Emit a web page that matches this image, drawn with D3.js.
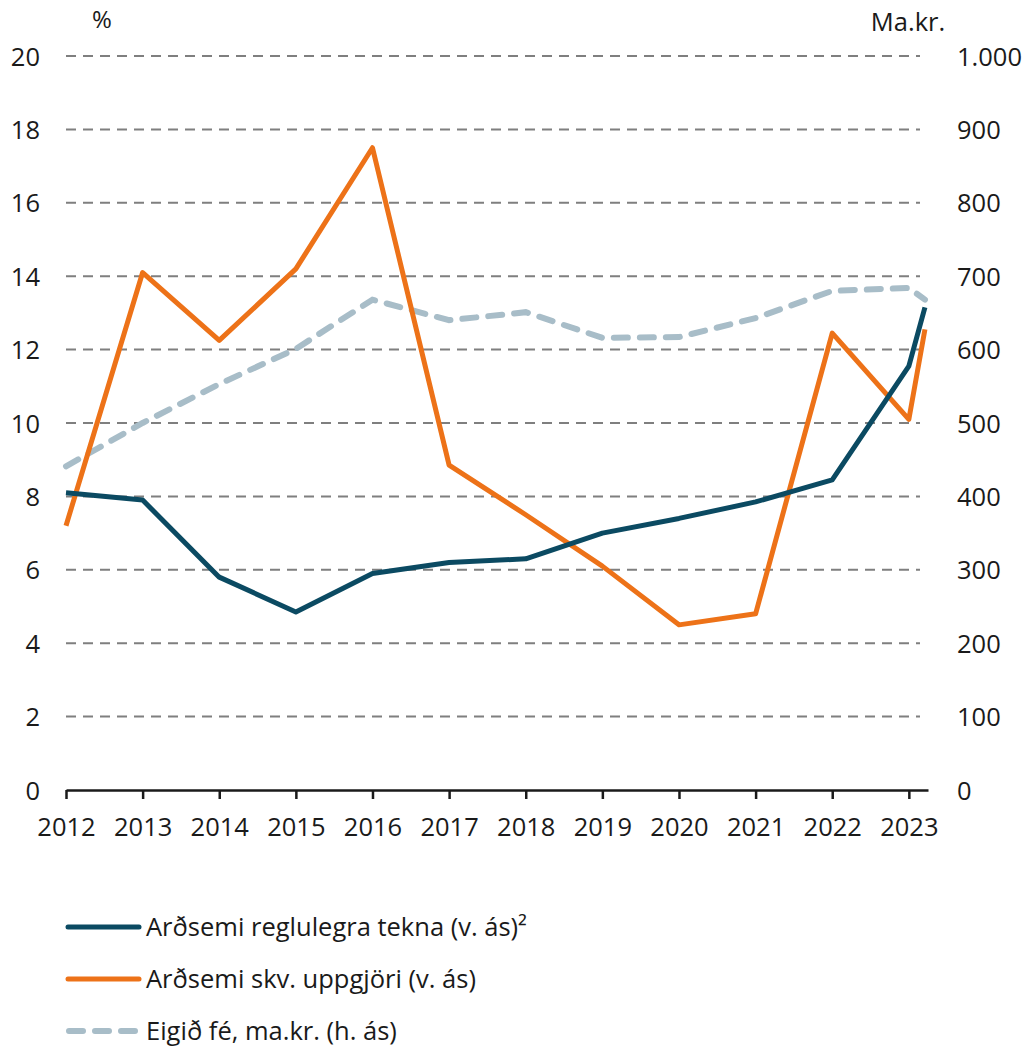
<!DOCTYPE html>
<html>
<head>
<meta charset="utf-8">
<script src="https://cdn.jsdelivr.net/npm/d3@7"></script>
<style>
  body { margin: 0; background: #fff; }
  text { font-family: "Open Sans", "Liberation Sans", sans-serif; fill: #1a1a1a; }
</style>
</head>
<body>
<div id="chart"></div>
<script>
// x positions: year ends, last point is the latest quarter after 2023
const xPoints = [2012, 2013, 2014, 2015, 2016, 2017, 2018, 2019, 2020, 2021, 2022, 2023, 2023.21];
const yearTicks = [2012, 2013, 2014, 2015, 2016, 2017, 2018, 2019, 2020, 2021, 2022, 2023];

const regluleg = [8.1, 7.9, 5.8, 4.85, 5.9, 6.2, 6.3, 7.0, 7.4, 7.85, 8.45, 11.55, 13.15];
const uppgjor = [7.2, 14.1, 12.25, 14.2, 17.5, 8.85, 7.5, 6.1, 4.5, 4.8, 12.45, 10.1, 12.55];
const eigidFe = [441, 500, 553, 601, 668, 640, 651, 616, 617, 643, 680, 684, 668];

const leftTicks = [0, 2, 4, 6, 8, 10, 12, 14, 16, 18, 20];
const rightTicks = [0, 100, 200, 300, 400, 500, 600, 700, 800, 900, 1000];

const seriesNames = ["Arðsemi reglulegra tekna (v. ás)²", "Arðsemi skv. uppgjöri (v. ás)", "Eigið fé, ma.kr. (h. ás)"];
const colors = ["#0b4a62", "#ed7218", "#a8bdc8"];

const width = 1030, height = 1050;
const svg = d3.select("#chart").append("svg")
    .attr("width", width)
    .attr("height", height);

const x = d3.scaleLinear().domain([2012, 2023.25]).range([66, 928]);
const yL = d3.scaleLinear().domain([0, 20]).range([790, 56]);
const yR = d3.scaleLinear().domain([0, 1000]).range([790, 56]);

const isl = d3.formatLocale({ decimal: ",", thousands: ".", grouping: [3], currency: ["", " kr."] });
const fmtR = isl.format(",d");

// gridlines
svg.append("g")
    .selectAll("line")
    .data(leftTicks.filter(d => d > 0))
    .join("line")
    .attr("x1", 66)
    .attr("x2", 920)
    .attr("y1", d => yL(d))
    .attr("y2", d => yL(d))
    .attr("stroke", "#7f7f7f")
    .attr("stroke-width", 2)
    .attr("stroke-dasharray", "10,7");

// left axis labels
const leftAxis = svg.append("g")
    .attr("transform", "translate(40,0)")
    .call(d3.axisLeft(yL).tickValues(leftTicks).tickSize(0).tickPadding(0));
leftAxis.select(".domain").remove();
leftAxis.selectAll("text").attr("font-size", 25.5).attr("fill", "#1a1a1a").attr("dy", "0.36em");

// right axis labels
const rightAxis = svg.append("g")
    .attr("transform", "translate(957,0)")
    .call(d3.axisRight(yR).tickValues(rightTicks).tickFormat(fmtR).tickSize(0).tickPadding(0));
rightAxis.select(".domain").remove();
rightAxis.selectAll("text").attr("font-size", 25.5).attr("fill", "#1a1a1a").attr("dy", "0.36em");

svg.append("text").attr("x", 102).attr("y", 28).attr("text-anchor", "middle").attr("font-size", 24).text("%");
svg.append("text").attr("x", 908).attr("y", 31).attr("text-anchor", "middle").attr("font-size", 25.5).text("Ma.kr.");

// x axis
const xAxis = svg.append("g")
    .attr("transform", "translate(0,790)")
    .call(d3.axisBottom(x).tickValues(yearTicks).tickFormat(d3.format("d")).tickSize(9).tickSizeOuter(0));
xAxis.select(".domain").attr("stroke", "#1a1a1a").attr("stroke-width", 2.5);
xAxis.selectAll(".tick line").attr("stroke", "#1a1a1a").attr("stroke-width", 2.5);
xAxis.selectAll("text").attr("font-size", 25.5).attr("fill", "#1a1a1a").attr("y", 0).attr("dy", 46);

// lines
const lineL = d3.line().x((d, i) => x(xPoints[i])).y(d => yL(d));
const lineR = d3.line().x((d, i) => x(xPoints[i])).y(d => yR(d));

svg.append("path")
    .datum(eigidFe)
    .attr("d", lineR)
    .attr("fill", "none")
    .attr("stroke", colors[2])
    .attr("stroke-width", 6)
    .attr("stroke-linecap", "round")
    .attr("stroke-dasharray", "14,12");

svg.append("path")
    .datum(uppgjor)
    .attr("d", lineL)
    .attr("fill", "none")
    .attr("stroke", colors[1])
    .attr("stroke-width", 5)
    .attr("stroke-linejoin", "round");

svg.append("path")
    .datum(regluleg)
    .attr("d", lineL)
    .attr("fill", "none")
    .attr("stroke", colors[0])
    .attr("stroke-width", 5)
    .attr("stroke-linejoin", "round");

// legend
const legendY = [927, 979, 1031];
const legend = svg.append("g");
seriesNames.forEach((name, i) => {
    const g = legend.append("g").attr("transform", `translate(0,${legendY[i]})`);
    g.append("line")
        .attr("x1", i === 2 ? 69 : 68)
        .attr("x2", i === 2 ? 135 : 139)
        .attr("stroke", colors[i])
        .attr("stroke-width", i === 2 ? 6 : 5)
        .attr("stroke-linecap", "round")
        .attr("stroke-dasharray", i === 2 ? "14,12" : null);
    g.append("text")
        .attr("x", 146)
        .attr("dy", "0.36em")
        .attr("font-size", 25.5)
        .text(name);
});
</script>
</body>
</html>
